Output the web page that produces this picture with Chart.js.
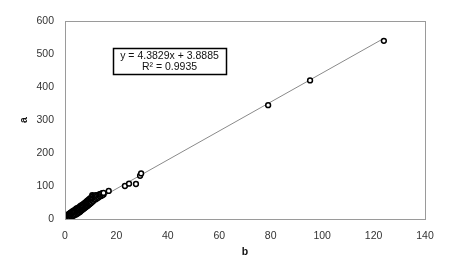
<!DOCTYPE html>
<html><head><meta charset="utf-8">
<script src="https://cdn.jsdelivr.net/npm/chart.js@4/dist/chart.umd.min.js"></script>
<style>html,body{margin:0;padding:0;background:#fff}#wrap{width:449px;height:272px}</style>
</head><body><div id="wrap"><canvas id="c" width="449" height="272"></canvas></div>
<script>
const bValues = [0.3,0.3,0.5,0.5,0.8,0.8,1.0,1.0,1.0,1.3,1.3,1.5,1.5,1.8,1.8,2.0,2.0,2.0,2.3,2.3,2.5,2.5,2.5,2.8,2.8,3.0,3.0,3.0,3.3,3.3,3.5,3.5,3.5,3.8,3.8,4.0,4.0,4.0,4.3,4.3,4.5,4.5,4.5,4.8,4.8,5.0,5.0,5.0,5.3,5.3,5.5,5.5,5.5,5.8,5.8,6.0,6.0,6.0,6.3,6.3,6.5,6.5,6.5,6.8,6.8,7.0,7.0,7.0,7.3,7.3,7.5,7.5,7.5,7.8,7.8,8.0,8.0,8.0,8.3,8.3,8.5,8.5,8.5,8.8,8.8,9.0,9.0,9.0,9.3,9.3,9.5,9.5,9.5,9.8,9.8,10.0,10.0,10.0,10.3,10.3,10.6,10.6,10.8,10.8,11.0,11.0,11.0,11.5,11.5,11.5,12.0,12.0,12.0,12.5,12.5,13.0,13.0,13.5,13.5,14.0,14.0,14.5,14.5,15.0,15.0,17.0,23.3,24.9,27.6,29.2,29.6,79.0,95.3,124.0];
const aValues = [1,5,3,8,2,10,5,12,1,4,14,8,15,6,16,9,18,4,7,19,10,21,14,8,20,12,24,17,10,22,14,26,19,12,25,16,28,21,14,30,18,32,24,16,30,20,34,27,19,33,22,36,29,21,35,24,40,31,25,38,27,42,34,28,40,30,44,36,31,45,33,47,39,34,48,36,50,42,37,52,39,54,45,40,55,42,57,48,44,58,45,61,50,47,60,48,63,54,50,66,72,58,53,68,55,70,62,58,70,64,60,72,66,63,70,65,73,68,75,70,76,72,78,74,79,85,100,107,106,131,138,345,420,540];
const slope = 4.3829, intercept = 3.8885, rSquared = 0.9935;
const xTicks = [0,20,40,60,80,100,120,140];
const yTicks = [0,100,200,300,400,500,600];
const eqLines = ['y = 4.3829x + 3.8885', 'R\u00B2 = 0.9935'];

const points = bValues.map((b,i)=>({x:b,y:aValues[i]}));
const xMax = Math.max(...bValues);
const trend = [{x:0,y:intercept},{x:xMax,y:slope*xMax+intercept}];
const FONT = "'Liberation Sans', Arial, sans-serif";

const framePlugin = {
  id:'frame',
  afterDraw(chart){
    const {ctx, chartArea:a} = chart;
    ctx.save();
    ctx.strokeStyle='#9a9a9a'; ctx.lineWidth=1;
    ctx.strokeRect(Math.round(a.left)+0.5, Math.round(a.top)+0.5, Math.round(a.right-a.left), Math.round(a.bottom-a.top));
    const bx=113, by=48, bw=113, bh=26;
    ctx.fillStyle='#fff'; ctx.fillRect(bx,by,bw,bh);
    ctx.strokeStyle='#000'; ctx.lineWidth=1.5; ctx.strokeRect(bx+0.5,by+0.5,bw,bh);
    ctx.fillStyle='#111'; ctx.font='10.5px '+FONT; ctx.textAlign='center'; ctx.textBaseline='middle';
    ctx.fillText(eqLines[0], bx+bw/2, by+8);
    ctx.fillText(eqLines[1], bx+bw/2, by+19.5);
    ctx.restore();
  }
};

new Chart(document.getElementById('c'), {
  type:'scatter',
  data:{datasets:[
    {label:'trend', data:trend, type:'line', showLine:true, borderColor:'#8a8a8a', borderWidth:1, pointRadius:0, fill:false, order:2},
    {label:'data', data:points, pointStyle:'circle', pointRadius:2.4, pointBorderWidth:1.5, pointBorderColor:'#000', pointBackgroundColor:'#fff', order:1}
  ]},
  options:{
    responsive:false, animation:false, devicePixelRatio:1,
    layout:{padding:{top:21,right:24,left:18,bottom:14}},
    plugins:{legend:{display:false}, tooltip:{enabled:false}},
    scales:{
      x:{type:'linear', min:0, max:140, afterBuildTicks(s){s.ticks=xTicks.map(v=>({value:v}));},
        grid:{display:false, drawTicks:false}, border:{display:false},
        ticks:{padding:11, color:'#333', font:{family:FONT,size:10.5}, maxRotation:0},
        title:{display:true, text:'b', color:'#111', font:{family:FONT,size:10.5,weight:'bold'}, padding:{top:3,bottom:0}},
        afterFit(s){s.height=39;}},
      y:{type:'linear', min:0, max:600, afterBuildTicks(s){s.ticks=yTicks.map(v=>({value:v}));},
        grid:{display:false, drawTicks:false}, border:{display:false},
        ticks:{padding:11, color:'#333', font:{family:FONT,size:10.5}},
        title:{display:true, text:'a', color:'#111', font:{family:FONT,size:10.5,weight:'bold'}, padding:{top:0,bottom:0}},
        afterFit(s){s.width=47;}}
    }
  },
  plugins:[framePlugin]
});
</script></body></html>
